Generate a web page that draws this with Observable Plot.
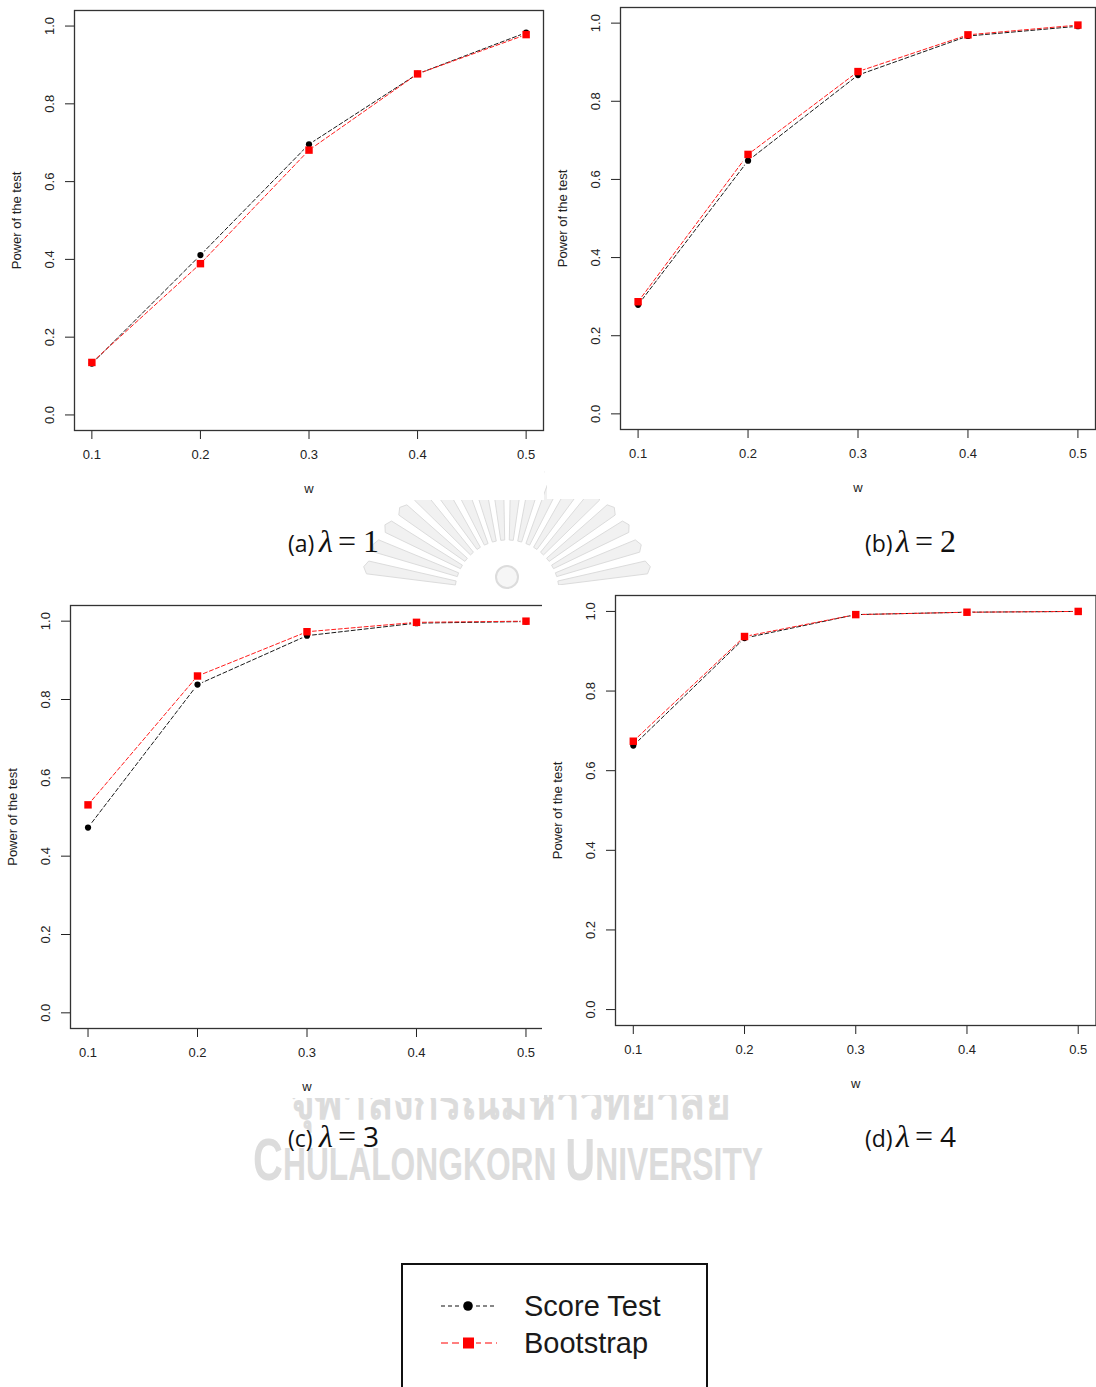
<!DOCTYPE html>
<html>
<head>
<meta charset="utf-8">
<script src="https://cdn.jsdelivr.net/npm/d3@7"></script>
<script src="https://cdn.jsdelivr.net/npm/@observablehq/plot@0.6"></script>
<style>
  html, body { margin: 0; padding: 0; background: #fff; }
  body { width: 1096px; height: 1387px; overflow: hidden; position: relative; font-family: "Liberation Sans", Arial, sans-serif; }
  .layer { position: absolute; left: 0; top: 0; }
  .panel { position: absolute; }
</style>
</head>
<body>
<svg id="under" class="layer" width="1096" height="1387"></svg>
<div id="panels"></div>
<svg id="over" class="layer" width="1096" height="1387"></svg>
<script>
// Weight w on the x axis, shared by all four panels
const w = [0.1, 0.2, 0.3, 0.4, 0.5];
const yTicks = [0, 0.2, 0.4, 0.6, 0.8, 1.0];

// Estimated power of the two tests for each lambda
const scoreL1 = [0.132, 0.411, 0.696, 0.877, 0.983];
const bootL1  = [0.135, 0.389, 0.681, 0.877, 0.978];
const scoreL2 = [0.279, 0.648, 0.867, 0.967, 0.992];
const bootL2  = [0.287, 0.664, 0.876, 0.970, 0.995];
const scoreL3 = [0.473, 0.838, 0.963, 0.995, 0.999];
const bootL3  = [0.531, 0.860, 0.973, 0.997, 1.000];
const scoreL4 = [0.663, 0.933, 0.992, 0.998, 1.000];
const bootL4  = [0.674, 0.937, 0.992, 0.998, 1.000];

const panelTags = ["(a)", "(b)", "(c)", "(d)"];
const lambdas = [1, 2, 3, 4];
const seriesNames = ["Score Test", "Bootstrap"];

const xLabel = "w";
const yLabel = "Power of the test";

// Plot-area boxes of the four panels on the page
const boxes = [
  {x: 73.5, y: 9.5,   w: 469,   h: 420},
  {x: 620,  y: 7,     w: 475,   h: 422},
  {x: 69.5, y: 604.5, w: 473,   h: 423},
  {x: 615,  y: 595,   w: 480.5, h: 430}
];
const seriesData = [[scoreL1, bootL1], [scoreL2, bootL2], [scoreL3, bootL3], [scoreL4, bootL4]];

const M = {left: 73, top: 10, right: 1, bottom: 70};
const fmt = d3.format(".1f");
const ink = "#222";

function panel([score, boot], box) {
  const sRows = w.map((x, i) => ({w: x, p: score[i]}));
  const bRows = w.map((x, i) => ({w: x, p: boot[i]}));
  const all = sRows.concat(bRows);
  return Plot.plot({
    width: box.w + M.left + M.right,
    height: box.h + M.top + M.bottom,
    marginLeft: M.left, marginTop: M.top, marginRight: M.right, marginBottom: M.bottom,
    style: {background: "#fff", fontFamily: "'Liberation Sans', Arial, sans-serif", fontSize: "13px", color: ink, overflow: "visible"},
    x: {domain: [0.084, 0.516]},
    y: {domain: [-0.04, 1.04]},
    marks: [
      Plot.axisX({ticks: w, tickFormat: fmt, tickSize: 9, tickPadding: 10, label: xLabel, labelAnchor: "center", labelArrow: "none", labelOffset: 62}),
      Plot.axisY({ticks: yTicks, tickFormat: fmt, tickSize: 9, tickPadding: 12, tickRotate: -90, label: yLabel, labelAnchor: "center", labelArrow: "none", labelOffset: 63}),
      Plot.frame({stroke: "#333", strokeWidth: 1.3}),
      Plot.line(sRows, {x: "w", y: "p", stroke: "#1a1a1a", strokeWidth: 1, strokeDasharray: "4,2.5"}),
      Plot.line(bRows, {x: "w", y: "p", stroke: "#ff1a1a", strokeWidth: 1, strokeDasharray: "4,2.5"}),
      Plot.dot(all, {x: "w", y: "p", r: 5.2, fill: "#fff"}),
      Plot.dot(sRows, {x: "w", y: "p", r: 3.1, fill: "#000"}),
      Plot.dot(bRows, {x: "w", y: "p", symbol: "square", r: 4.2, fill: "#ff0000"})
    ]
  });
}

const holder = document.getElementById("panels");
boxes.forEach((box, i) => {
  const el = panel(seriesData[i], box);
  el.classList.add("panel");
  el.style.left = (box.x - M.left) + "px";
  el.style.top = (box.y - M.top) + "px";
  holder.appendChild(el);
});

// University watermark beneath the panels
const under = d3.select("#under");
const wm = "#dcdcdc";
const cx = 507, cy = 592;
const rays = d3.range(18).map(k => 170 - k * (160 / 17));
rays.forEach(deg => {
  const a = deg * Math.PI / 180;
  const r0 = 52, r1 = 145 - 20 * Math.sin(a);
  const ux = Math.cos(a), uy = -Math.sin(a), px = -uy, py = ux;
  const pts = [
    [cx + ux * r0 + px * 2, cy + uy * r0 + py * 2],
    [cx + ux * r1 + px * 6.5, cy + uy * r1 + py * 6.5],
    [cx + ux * (r1 + 4), cy + uy * (r1 + 4)],
    [cx + ux * r1 - px * 6.5, cy + uy * r1 - py * 6.5],
    [cx + ux * r0 - px * 2, cy + uy * r0 - py * 2]
  ];
  under.append("polygon").attr("points", pts.map(p => p.join(",")).join(" "))
    .attr("fill", "#f1f1f1").attr("stroke", wm).attr("stroke-width", 1);
});
under.append("circle").attr("cx", cx).attr("cy", 577).attr("r", 11).attr("fill", "#f6f6f6").attr("stroke", wm).attr("stroke-width", 2);

under.append("text").attr("x", 290).attr("y", 1119)
  .attr("font-family", "'Noto Sans', 'DejaVu Sans', sans-serif").attr("font-weight", "bold")
  .attr("font-size", 50).attr("fill", wm)
  .attr("textLength", 440).attr("lengthAdjust", "spacingAndGlyphs")
  .text("จุฬาลงกรณ์มหาวิทยาลัย");

const uni = under.append("text").attr("x", 253).attr("y", 1180)
  .attr("font-family", "'Liberation Sans', Arial, sans-serif").attr("font-weight", "bold")
  .attr("fill", wm).attr("textLength", 510).attr("lengthAdjust", "spacingAndGlyphs");
uni.append("tspan").attr("font-size", 60).text("C");
uni.append("tspan").attr("font-size", 46).text("HULALONGKORN ");
uni.append("tspan").attr("font-size", 60).text("U");
uni.append("tspan").attr("font-size", 46).text("NIVERSITY");

// Panel captions and legend
const over = d3.select("#over");
const capPos = [[288, 552], [865, 552], [288, 1147], [865, 1147]];
capPos.forEach(([x, y], i) => {
  const g = over.append("g").attr("fill", "#111");
  g.append("text").attr("x", x).attr("y", y)
    .attr("font-family", "'Open Sans', sans-serif").attr("font-size", 23).text(panelTags[i]);
  g.append("text").attr("x", x + 31).attr("y", y)
    .attr("font-family", "'Liberation Serif', serif").attr("font-style", "italic").attr("font-size", 32).text("λ");
  g.append("text").attr("x", x + 50).attr("y", y)
    .attr("font-family", "'Liberation Serif', serif").attr("font-size", 32).text("=");
  const serifDigit = i < 2;
  g.append("text").attr("x", x + 75).attr("y", y)
    .attr("font-family", serifDigit ? "'Liberation Serif', serif" : "'Open Sans', sans-serif")
    .attr("font-size", serifDigit ? 32 : 28).text(lambdas[i]);
});

const lg = over.append("g").attr("transform", "translate(402,1264)");
lg.append("rect").attr("x", 0).attr("y", 0).attr("width", 305).attr("height", 140)
  .attr("fill", "#fff").attr("stroke", "#111").attr("stroke-width", 2);
const legendRows = [
  {name: seriesNames[0], y: 42, color: "#111", dash: "4,3", symbol: "circle"},
  {name: seriesNames[1], y: 79, color: "#ff0000", dash: "7,4", symbol: "square"}
];
legendRows.forEach(r => {
  lg.append("line").attr("x1", 39).attr("x2", 95).attr("y1", r.y).attr("y2", r.y)
    .attr("stroke", r.color).attr("stroke-width", 1.2).attr("stroke-dasharray", r.dash);
  if (r.symbol === "circle") {
    lg.append("circle").attr("cx", 66).attr("cy", r.y).attr("r", 8).attr("fill", "#fff");
    lg.append("circle").attr("cx", 66).attr("cy", r.y).attr("r", 4.8).attr("fill", "#000");
  } else {
    lg.append("rect").attr("x", 58).attr("y", r.y - 8).attr("width", 16).attr("height", 16).attr("fill", "#fff");
    lg.append("rect").attr("x", 61).attr("y", r.y - 5.5).attr("width", 11).attr("height", 11).attr("fill", "#ff0000");
  }
  lg.append("text").attr("x", 122).attr("y", r.y + 10)
    .attr("font-family", "'Liberation Sans', Arial, sans-serif").attr("font-size", 29)
    .attr("fill", "#1a1a1a").text(r.name);
});
</script>
</body>
</html>
